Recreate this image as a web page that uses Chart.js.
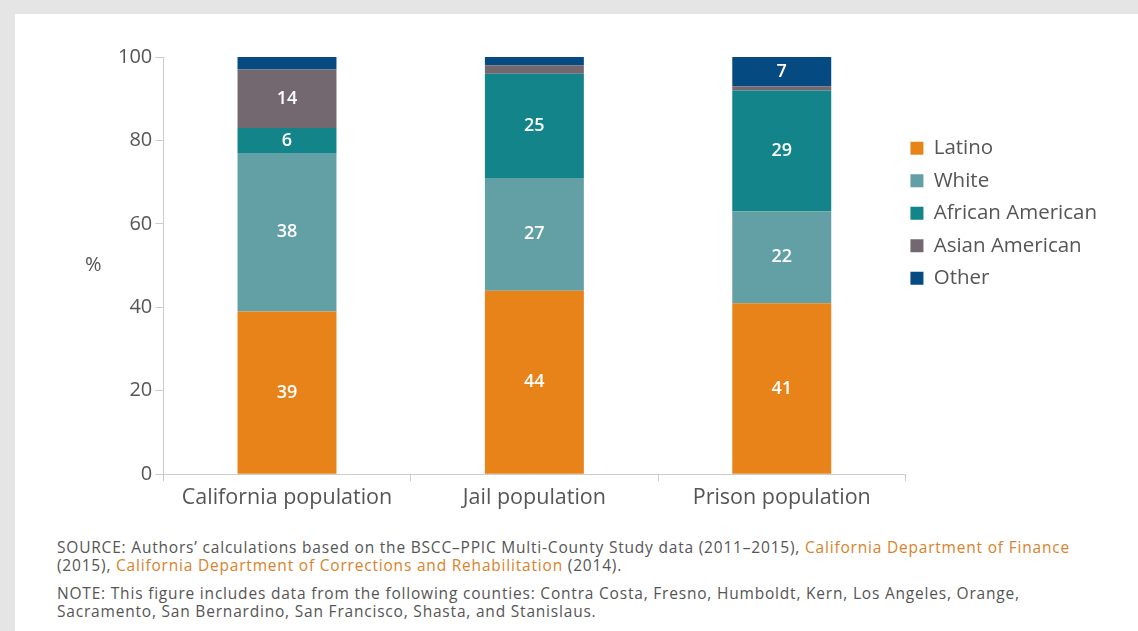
<!DOCTYPE html>
<html><head><meta charset="utf-8">
<script src="https://cdn.jsdelivr.net/npm/chart.js@4"></script>
<style>
html,body{margin:0;padding:0;background:#e5e5e5;}
body{width:1138px;height:631px;overflow:hidden;position:relative;font-family:"Open Sans",sans-serif;}
#panel{position:absolute;left:15px;top:14px;right:0;bottom:0;background:#fff;}
#wrap{position:absolute;left:0;top:0;width:1123px;height:520px;}
#notes{position:absolute;left:42px;top:524px;width:1075px;color:#555;font-size:15.5px;line-height:18px;letter-spacing:0.8px;}
#notes p{margin:0 0 10px 0;}
#notes a{color:#d9822b;text-decoration:none;}
</style></head>
<body>
<div id="panel">
<div id="wrap"><canvas id="c"></canvas></div>
<div id="notes">
<p>SOURCE: Authors’ calculations based on the BSCC–PPIC Multi-County Study data (2011–2015), <a>California Department of Finance</a><br>(2015), <a>California Department of Corrections and Rehabilitation</a> (2014).</p>
<p>NOTE: This figure includes data from the following counties: Contra Costa, Fresno, Humboldt, Kern, Los Angeles, Orange,<br>Sacramento, San Bernardino, San Francisco, Shasta, and Stanislaus.</p>
</div>
</div>
<script>
const categories = ['California population', 'Jail population', 'Prison population'];
const latino = [39, 44, 41];
const white = [38, 27, 22];
const africanAmerican = [6, 25, 29];
const asianAmerican = [14, 2, 1];
const other = [3, 2, 7];
const yTicks = [0, 20, 40, 60, 80, 100];
const seriesNames = ['Latino', 'White', 'African American', 'Asian American', 'Other'];
const seriesColors = ['#e8831a', '#62a0a6', '#138489', '#746870', '#054a80'];
const seriesValues = [latino, white, africanAmerican, asianAmerican, other];

const FONT = '"Open Sans", sans-serif';
const TEXT = '#555';

const segLabels = {
  id: 'segLabels',
  afterDatasetsDraw(chart) {
    const ctx = chart.ctx;
    ctx.save();
    ctx.fillStyle = '#fff';
    ctx.font = '600 18px ' + FONT;
    ctx.textAlign = 'center';
    ctx.textBaseline = 'middle';
    chart.data.datasets.forEach((ds, di) => {
      const meta = chart.getDatasetMeta(di);
      meta.data.forEach((el, i) => {
        const v = ds.data[i];
        if (v >= 5) {
          ctx.fillText(String(v), el.x, (el.y + el.base) / 2);
        }
      });
    });
    ctx.restore();
  }
};

const yTitle = {
  id: 'yTitle',
  afterDraw(chart) {
    const ctx = chart.ctx, a = chart.chartArea;
    ctx.save();
    ctx.fillStyle = TEXT;
    ctx.font = '20px ' + FONT;
    ctx.textAlign = 'center';
    ctx.textBaseline = 'middle';
    ctx.fillText('%', a.left - 70, (a.top + a.bottom) / 2);
    ctx.restore();
  }
};

const legendPlace = {
  id: 'legendPlace',
  afterLayout(chart) {
    const lg = chart.legend;
    if (!lg) return;
    const w = lg.width;
    lg.left = chart.chartArea.right + 5 - lg.options.labels.padding;
    lg.right = lg.left + w;
    lg.top = 112;
    lg.bottom = lg.top + 400;
  }
};

new Chart(document.getElementById('c'), {
  type: 'bar',
  data: {
    labels: categories,
    datasets: seriesNames.map((n, i) => ({
      label: n,
      data: seriesValues[i],
      backgroundColor: seriesColors[i],
      borderWidth: 0,
      barPercentage: 0.4,
      categoryPercentage: 1.0
    }))
  },
  options: {
    responsive: true,
    maintainAspectRatio: false,
    animation: false,
    layout: { padding: { top: 43, right: 24, left: 100, bottom: 19 } },
    plugins: {
      tooltip: { enabled: false },
      legend: {
        position: 'right',
        align: 'start',
        labels: {
          boxWidth: 13, boxHeight: 13, padding: 12,
          color: TEXT,
          font: { family: FONT, size: 20.5 }
        }
      }
    },
    scales: {
      x: {
        stacked: true,
        grid: { drawOnChartArea: false, tickLength: 7, color: '#ccc', offset: true },
        border: { color: '#ccc' },
        ticks: { color: TEXT, font: { family: FONT, size: 21.5 }, padding: 4 }
      },
      y: {
        stacked: true,
        min: 0, max: 100,
        afterBuildTicks(scale) { scale.ticks = yTicks.map(v => ({ value: v })); },
        grid: { drawOnChartArea: false, tickLength: 8, color: '#ccc' },
        border: { color: '#ccc' },
        ticks: { color: TEXT, font: { family: FONT, size: 20 }, padding: 3 }
      }
    }
  },
  plugins: [segLabels, yTitle, legendPlace]
});
</script>
</body></html>
